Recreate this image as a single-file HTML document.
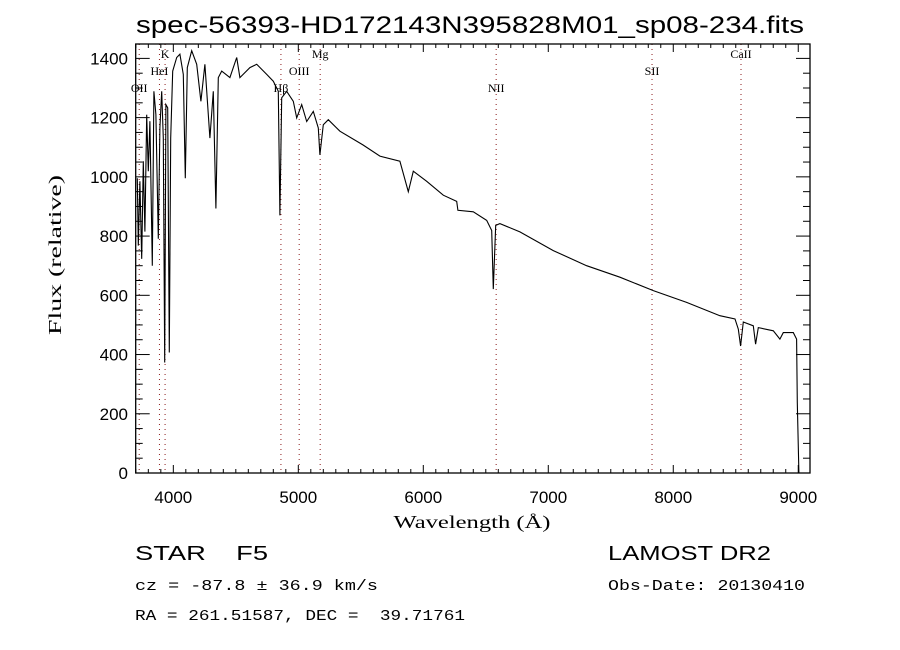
<!DOCTYPE html>
<html><head><meta charset="utf-8"><style>
html,body{margin:0;padding:0;background:#fff;}
svg{display:block;}
text{fill:#000;white-space:pre;}
</style></head><body>
<svg id="chart" width="900" height="650" viewBox="0 0 900 650" xmlns="http://www.w3.org/2000/svg" xml:space="preserve">
<rect x="0" y="0" width="900" height="650" fill="#fff"/>
<text x="470" y="33" font-family="Liberation Sans, sans-serif" font-size="24" text-anchor="middle" textLength="668" lengthAdjust="spacingAndGlyphs">spec-56393-HD172143N395828M01_sp08-234.fits</text>
<g id="lines"></g>
<g id="ticks"></g>
<path id="spec" fill="none" stroke="#000" stroke-width="1.1"/>
<rect x="135.7" y="44" width="674.3" height="429" fill="none" stroke="#000" stroke-width="1.3"/>
<text x="472" y="528" font-family="Liberation Serif, serif" font-size="18" text-anchor="middle" textLength="157" lengthAdjust="spacingAndGlyphs">Wavelength (Å)</text>
<text transform="translate(61,255) rotate(-90)" font-family="Liberation Serif, serif" font-size="18" text-anchor="middle" textLength="160" lengthAdjust="spacingAndGlyphs">Flux (relative)</text>
<text x="135" y="560" font-family="Liberation Sans, sans-serif" font-size="20" textLength="133" lengthAdjust="spacingAndGlyphs">STAR    F5</text>
<text x="608" y="560" font-family="Liberation Sans, sans-serif" font-size="20" textLength="163" lengthAdjust="spacingAndGlyphs">LAMOST DR2</text>
<text x="135" y="590" font-family="Liberation Mono, monospace" font-size="15" textLength="243" lengthAdjust="spacingAndGlyphs">cz = -87.8 ± 36.9 km/s</text>
<text x="608" y="590" font-family="Liberation Mono, monospace" font-size="15" textLength="197" lengthAdjust="spacingAndGlyphs">Obs-Date: 20130410</text>
<text x="135" y="620" font-family="Liberation Mono, monospace" font-size="15" textLength="330" lengthAdjust="spacingAndGlyphs">RA = 261.51587, DEC =  39.71761</text>
</svg>
<script>
const wavelengths=[3712,3720,3733,3747,3760,3773,3787,3800,3813,3832,3845,3861,3880,3893,3907,3920,3931,3941,3955,3968,3979,3995,4027,4053,4080,4096,4112,4147,4187,4221,4253,4293,4320,4341,4360,4387,4453,4507,4533,4613,4667,4747,4800,4840,4853,4867,4907,4960,4987,5027,5067,5120,5160,5173,5200,5240,5333,5517,5653,5813,5880,5920,6027,6160,6267,6277,6400,6507,6547,6560,6579,6613,6773,7040,7307,7573,7840,8107,8373,8494,8520,8539,8560,8640,8659,8680,8800,8853,8880,8960,8987,8992,9005];
const flux=[995,768,985,723,1053,815,1210,1019,1188,700,1289,1210,791,1165,1289,1131,373,1244,1233,407,1131,1357,1403,1414,1346,995,1369,1426,1380,1255,1380,1131,1289,893,1335,1357,1335,1403,1335,1369,1380,1346,1323,1289,870,1267,1289,1255,1199,1244,1187,1221,1165,1074,1176,1193,1154,1108,1070,1053,950,1019,985,938,917,887,882,853,819,621,836,842,814,751,700,661,616,576,531,520,486,429,510,497,435,491,480,452,474,474,452,237,0];
const lineNames=["OII","HeI","K","Hβ","OIII","Mg","NII","SII","CaII"];
const lineWaves=[3727,3889,3934,4861,5007,5175,6583,7830,8542];
const xTicks=[4000,5000,6000,7000,8000,9000];
const yTicks=[0,200,400,600,800,1000,1200,1400];

const X0=135.7,X1=810,Y0=473,Y1=44,WMIN=3699,WMAX=9094,FMIN=0,FMAX=1448.6;
const xs=w=>X0+(w-WMIN)/(WMAX-WMIN)*(X1-X0);
const ys=f=>Y0-(f-FMIN)/(FMAX-FMIN)*(Y0-Y1);
const NS="http://www.w3.org/2000/svg";
function mk(tag,attrs,parent){const e=document.createElementNS(NS,tag);for(const k in attrs)e.setAttribute(k,attrs[k]);parent.appendChild(e);return e;}

let d='';
wavelengths.forEach((w,i)=>{d+=(i?'L':'M')+xs(w).toFixed(1)+' '+ys(flux[i]).toFixed(1);});
document.getElementById('spec').setAttribute('d',d);

const lg=document.getElementById('lines');
const labelY=[92,75,58];
lineWaves.forEach((w,i)=>{
  const x=xs(w);
  const ln=mk('line',{x1:x,x2:x,y1:Y1,y2:Y0,stroke:'#8b1a1a','stroke-width':1,'stroke-dasharray':'1 4'},lg);
  
  
  const t=mk('text',{x:x,y:labelY[i%3],'font-family':'Liberation Serif, serif','font-size':12,'text-anchor':'middle'},lg);
  
  
  t.textContent=lineNames[i];
});

const tg=document.getElementById('ticks');
for(let w=3700;w<=9090;w+=100){
  const major=w%1000===0;const L=major?8:4;const x=xs(w);
  mk('line',{x1:x,x2:x,y1:Y0,y2:Y0-L,stroke:'#000','stroke-width':1},tg);
  mk('line',{x1:x,x2:x,y1:Y1,y2:Y1+L,stroke:'#000','stroke-width':1},tg);
}
xTicks.forEach(w=>{
  const t=mk('text',{x:xs(w),y:503,'font-family':'Liberation Sans, sans-serif','font-size':17,'text-anchor':'middle'},tg);
  
  
  t.textContent=w;
});
for(let f=0;f<=1440;f+=50){
  const major=f%200===0;const L=major?14:7;const y=ys(f);
  mk('line',{x1:X0,x2:X0+L,y1:y,y2:y,stroke:'#000','stroke-width':1},tg);
  mk('line',{x1:X1,x2:X1-L,y1:y,y2:y,stroke:'#000','stroke-width':1},tg);
}
yTicks.forEach(f=>{
  const t=mk('text',{x:128,y:ys(f)+6,'font-family':'Liberation Sans, sans-serif','font-size':17,'text-anchor':'end'},tg);
  
  
  t.textContent=f;
});
</script>
</body></html>
